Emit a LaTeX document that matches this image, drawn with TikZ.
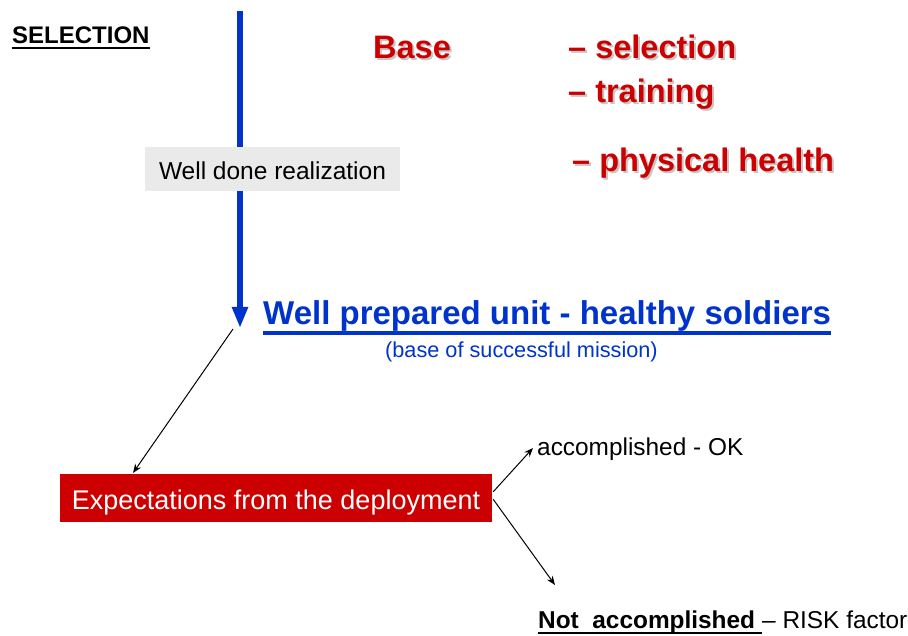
\documentclass[tikz,border=0pt]{standalone}
\usepackage{fontspec}
\setmainfont{Liberation Sans}
\usetikzlibrary{arrows.meta, calc}
\definecolor{basered}{RGB}{204,0,0}
\definecolor{unitblue}{RGB}{0,51,204}
\definecolor{boxgrey}{RGB}{234,234,234}
\newcommand{\px}[1]{\fontsize{#1}{#1}\selectfont}
\newcommand{\shadowed}[1]{\makebox[0pt][l]{\hspace{2pt}\raisebox{-2pt}{\textcolor{gray!45}{#1}}}#1}
\tikzset{
	x=1pt, y=-1pt,
	plain text/.style={inner sep=0pt, anchor=base west, font=\px{24.4}},
	base item/.style={plain text, font=\px{32.5}\bfseries, text=basered},
	unit text/.style={plain text, font=\px{33}\bfseries, text=unitblue},
	grey box/.style={fill=boxgrey, inner sep=0pt, anchor=center, font=\px{24.5}, text height=22pt, text depth=0pt},
	red box/.style={fill=basered, text=white, inner sep=0pt, anchor=center, font=\px{27}, text height=23pt, text depth=0pt},
	thin arrow/.style={line width=1pt, -{Stealth[length=9pt, width=7pt]}},
	flow arrow/.style={line width=6pt, unitblue, -{Triangle[length=21pt, width=15pt]}}
}

\begin{document}
\begin{tikzpicture}
	\useasboundingbox (0,0) rectangle (908,636);
	% heading and the blue flow
	\node[plain text, font=\px{24}\bfseries] (sel) at (12,44) {SELECTION};
	\draw[line width=2.5pt] ($(sel.base west)+(0,4)$) -- ($(sel.base east)+(0,4)$);
	\coordinate (flowtop) at (240,11);
	\coordinate (flowtip) at (240,328);
	\draw[flow arrow] (flowtop) -- (flowtip);
	\node[grey box, minimum width=255pt, minimum height=44pt] (done) at (272.5,169) {Well done realization};
	% base items
	\node[base item] (base) at (373,59) {\shadowed{Base}};
	\node[base item] (sel2) at (568,59) {\shadowed{– selection}};
	\node[base item] (train) at (568,103) {\shadowed{– training}};
	\node[base item] (health) at (572,172) {\shadowed{– physical health}};
	% result
	\node[unit text] (prep) at (263,325) {Well prepared unit - healthy soldiers};
	\draw[unitblue, line width=3.5pt] ($(prep.base west)+(0,8)$) -- ($(prep.base east)+(0,8)$);
	\node[plain text, font=\px{21.7}, text=unitblue] (mission) at (385,358) {(base of successful mission)};
	% expectations
	\node[red box, minimum width=432pt, minimum height=47.5pt] (exp) at (276,497.8) {Expectations from the deployment};
	\node[plain text] (ok) at (537,455) {accomplished - OK};
	\node[plain text, font=\px{24.4}\bfseries] (notacc) at (538,628) {Not\ \ accomplished\rule{6.7pt}{0pt}};
	\node[plain text, anchor=base west] (risk) at (notacc.base east) {– RISK factor};
	\draw[line width=2.5pt] ($(notacc.base west)+(0,5)$) -- ($(notacc.base east)+(0,5)$);
	\coordinate (armstart) at (233,329);
	\coordinate (expin) at (133,473);
	\coordinate (okin) at (533,448);
	\coordinate (notin) at (555,585);
	\draw[thin arrow] (armstart) -- (expin);
	\draw[thin arrow] ($(exp.east)+(1,-6)$) -- (okin);
	\draw[thin arrow] ($(exp.east)+(1,1.5)$) -- (notin);
\end{tikzpicture}
\end{document}
